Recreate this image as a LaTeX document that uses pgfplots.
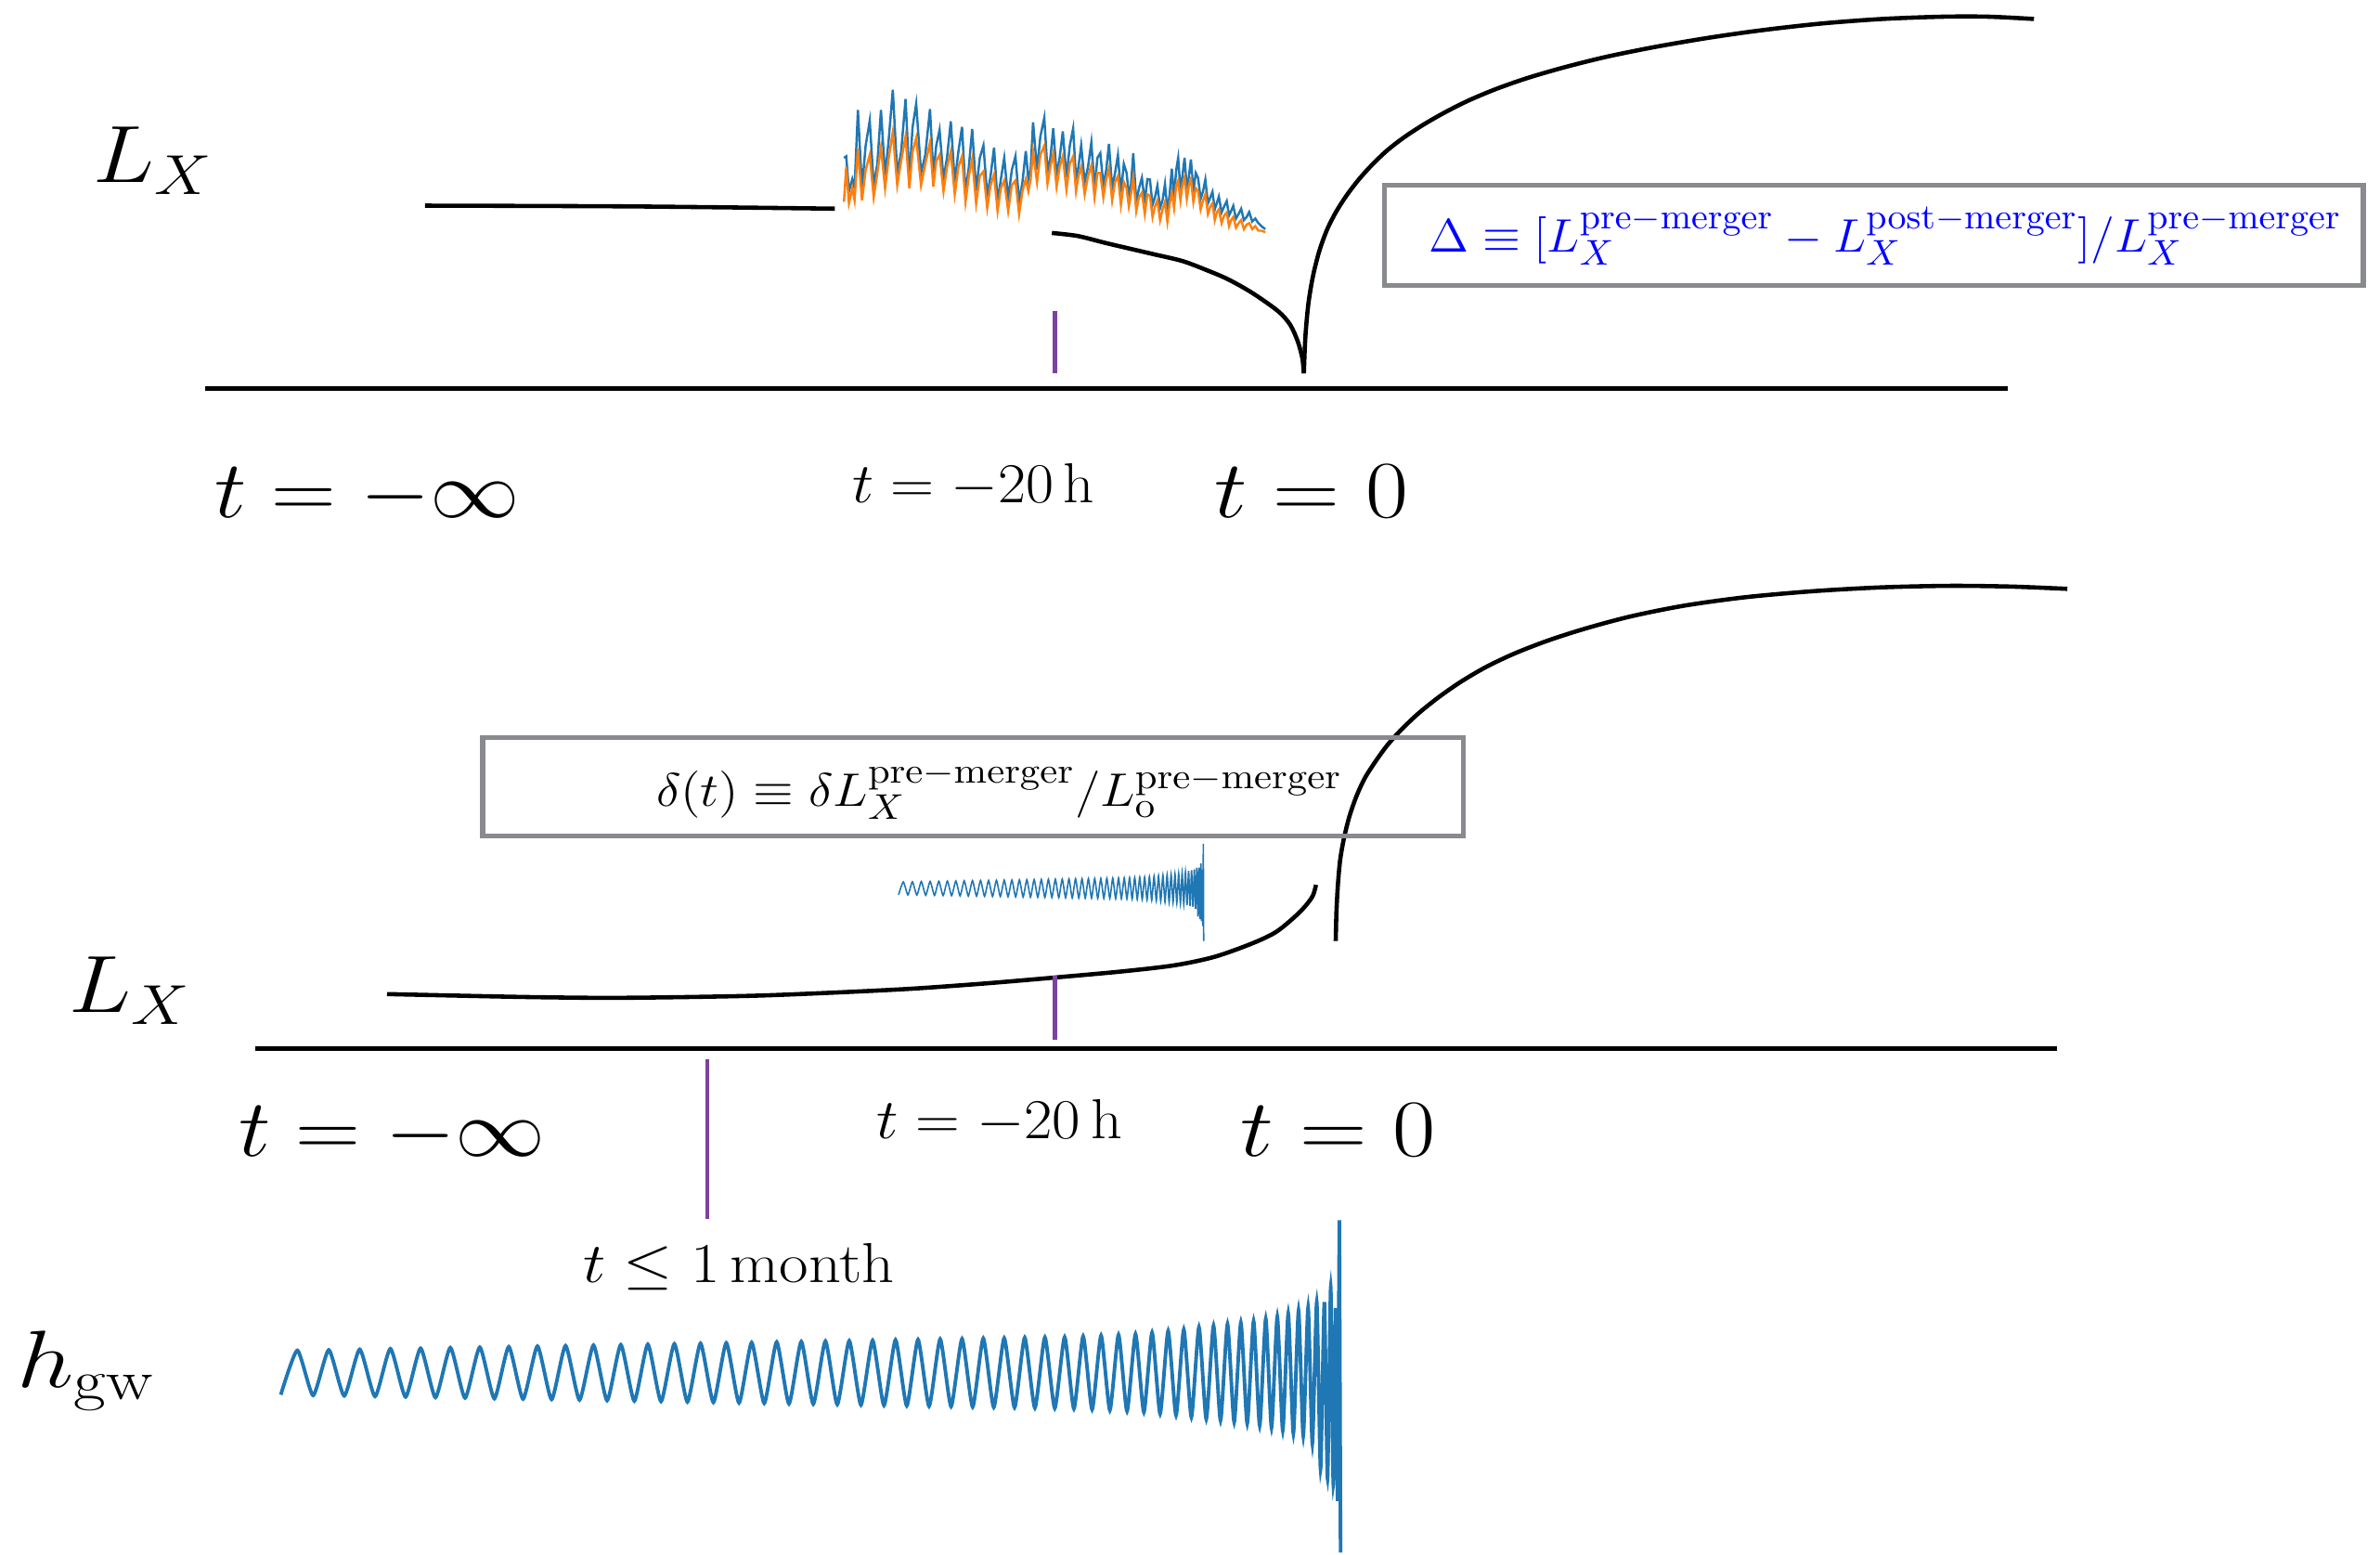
\documentclass[border=0pt]{standalone}
\usepackage{graphicx}
\usepackage{pgfplots}
\pgfplotsset{compat=1.18}
\usepackage{pgfplotstable}
\definecolor{mplblue}{RGB}{31,119,180}
\definecolor{mplorange}{RGB}{255,127,14}
\definecolor{tickpurple}{RGB}{125,65,160}
\definecolor{boxgray}{RGB}{136,138,141}
\newcommand\fbig{\fontsize{27}{32}\selectfont}
\newcommand\fmid{\fontsize{18}{22}\selectfont}
\newcommand\fsm{\fontsize{15.5}{19}\selectfont}

\pgfplotstableread{
x b o
556.0 104 133
557.5 103 110
559.3 126 134
561.5 118 124
563.0 124 132
565.2 72.4 98
567.9 124 132
570.3 96 112
573.0 79.5 102
575.6 122 130
578.0 108 114
580.4 72.4 97
583.1 116 124
585.5 92 104
588.2 59.1 87
591.1 114 122
593.7 100 106
596.6 65.2 90
599.1 118 124
601.2 84 100
603.6 68.3 91
606.8 114 122
609.6 102 108
612.7 71.8 94
614.9 115 123
616.8 96 106
619.0 85.6 102
621.6 118 126
623.9 104 110
626.4 79.9 100
629.0 120 128
631.4 100 110
633.8 83.6 103
636.1 127 133
638.3 110 116
640.5 85.0 105
643.1 126 134
645.5 104 116
647.9 95.8 113
650.4 129 137
652.6 116 122
654.9 97.2 115
657.2 133 139
659.4 118 124
661.6 104 119
664.2 131 139
666.6 112 122
669.0 103 119
671.4 133 141
673.6 120 126
675.8 99.5 118
677.5 118 126
679.0 112 118
680.6 80.5 100
683.2 112 120
685.4 90 102
688.0 77.5 96
690.1 113 121
692.0 104 110
693.9 84.6 101
696.1 115 123
698.1 104 110
700.2 86.6 103
702.6 117 125
704.8 96 108
707.0 84.6 103
708.9 118 126
710.5 110 116
712.3 95.8 110
714.6 120 128
716.8 110 116
719.0 93.8 109
721.1 124 130
723.0 104 114
724.9 100.9 114
726.9 122 130
728.8 112 118
730.6 94.8 111
732.7 124 132
734.6 114 120
736.5 102.3 116
738.5 127 135
740.4 108 120
742.2 113.8 124
743.7 128 136
745.1 122 128
746.6 100.9 117
748.6 133 139
750.4 124 130
752.3 117.2 127
754.2 133 141
755.9 118 128
757.6 118.3 129
759.3 135 143
760.9 130 136
762.5 122.3 132
764.3 137 145
765.9 132 138
767.5 121.3 133
769.1 139 146
770.6 128 134
772.0 111.1 127
773.5 130 137
774.9 112 122
776.2 104 119
777.7 125 132
779.0 116 122
780.4 104 117
781.9 124 131
783.3 116 122
784.6 105 118
786.2 126 133
787.8 114 124
789.3 117.2 126
791.0 131 138
792.6 126 132
794.1 118.3 128
795.8 134 141
797.4 130 136
798.8 126.4 134
800.3 138 145
801.6 134 140
803.0 129.5 138
804.8 140 147
806.5 136 142
808.2 132.5 140
809.7 142 149
811.1 139 145
812.5 135.6 143
814.3 144 150
816.0 141 147
817.7 137.6 145
819.5 145 151
821.3 143 148
823.0 139.7 147
825.0 146 151
827.0 144 149
829.0 147 152
831.0 149 152
833.6 151 153
}\noise

\pgfplotstableread{
x y
185.0 919.0
195.9 889.8
206.3 919.4
216.6 889.5
226.8 919.7
237.0 889.1
247.1 920.1
257.2 888.7
267.2 920.4
277.1 888.4
286.9 920.8
296.7 888.0
306.4 921.1
316.1 887.7
325.7 921.5
335.2 887.4
344.6 921.8
354.1 887.0
363.4 922.1
372.6 886.7
381.8 922.4
391.0 886.4
400.0 922.8
409.0 886.1
417.9 923.1
426.8 885.8
435.5 923.4
444.3 885.5
452.9 923.7
461.5 885.2
470.0 924.0
478.5 884.9
486.9 924.3
495.2 884.6
503.5 924.6
511.7 884.3
519.8 924.9
527.9 884.0
535.8 925.1
543.8 883.7
551.6 925.4
559.5 883.5
567.2 925.7
574.9 883.2
582.4 926.0
590.0 882.9
597.4 926.2
604.8 882.7
612.1 926.5
619.4 882.4
626.6 926.7
633.8 882.2
640.8 927.0
647.8 881.9
654.7 927.2
661.6 881.7
668.4 927.4
675.1 881.4
681.8 927.7
688.4 881.2
694.9 927.9
701.4 881.0
707.5 928.2
713.6 880.5
719.5 928.7
725.4 880.0
731.2 929.2
736.9 879.5
742.5 929.8
748.1 879.0
753.6 930.5
759.0 878.0
764.3 931.5
769.6 877.0
774.8 932.5
779.9 876.0
784.9 933.7
789.9 874.5
794.7 935.0
799.5 873.5
804.1 936.0
808.7 872.5
813.1 937.0
817.5 871.5
821.7 938.0
825.9 870.5
829.9 939.3
833.9 869.0
837.7 940.7
841.5 867.5
845.1 942.5
848.7 865.5
852.1 944.5
855.5 863.5
858.6 946.0
861.8 861.5
864.6 951.0
867.5 858.0
870.0 968.0
872.5 858.0
874.6 974.0
876.7 848.0
878.4 978.0
880.0 862.0
881.2 989.0
}\chirp

\pgfplotstableread{
x y
881.2 989
882.4 804
883.2 1023
}\spike

\begin{document}
\begin{tikzpicture}
\begin{axis}[name=main, width=25.64cm, height=16.74cm, scale only axis,
  xmin=0, xmax=1568, ymin=0, ymax=1024, y dir=reverse, hide axis, clip=false]

% ---------- top panel ----------
\addplot[black, line width=1.4pt] coordinates {(135,256) (1323,256)};
\addplot[black, line width=1.3pt, smooth] coordinates {(280,135.5) (415,136) (550,137.5)};
\addplot[mplblue, line width=0.7pt] table[x=x, y=b] {\noise};
\addplot[mplorange, line width=0.7pt] table[x=x, y=o] {\noise};
\addplot[black, line width=1.3pt, smooth] coordinates {(693,153.5) (710,155.5) (728,160) (745,164) (760,167.5) (779,172) (795,178) (809,184) (825,193) (842,205) (850,214) (855,225) (858,236) (859,246)};
\addplot[black, line width=1.3pt, smooth] coordinates {(859,246) (860,222) (862,200) (865,182) (869,166) (874,152) (880,140) (887,129) (895,118.5) (904,108.5) (914,99) (925,90.5) (938,82) (952,74) (968,66) (986,58.5) (1006,51.5) (1030,44.5) (1058,37.5) (1090,31) (1125,25) (1160,20) (1200,15.5) (1240,12.5) (1280,11) (1310,11) (1340,12.5)};
\addplot[tickpurple, line width=1.4pt] coordinates {(695,205) (695,246)};

\draw[boxgray, line width=1.5pt] (axis cs:912,122) rectangle (axis cs:1557,188);
\node[anchor=base west, inner sep=0, font=\fsm, text=blue] at (axis cs:941,166)
  {\scalebox{1.04}[1]{$\Delta \equiv [L_X^{\mathrm{pre-merger}} - L_X^{\mathrm{post-merger}}]/L_X^{\mathrm{pre-merger}}$}};

\node[anchor=base west, inner sep=0, font=\fbig] at (axis cs:61,120) {\scalebox{1.13}[1]{$L_X$}};
\node[anchor=base west, inner sep=0, font=\fbig] at (axis cs:141,341) {\scalebox{1.105}[1]{$t=-\infty$}};
\node[anchor=base west, inner sep=0, font=\fmid] at (axis cs:561,331) {\scalebox{1.075}[1]{$t=-20\,\mathrm{h}$}};
\node[anchor=base west, inner sep=0, font=\fbig] at (axis cs:800,341) {\scalebox{1.14}[1]{$t=0$}};

% ---------- bottom panel ----------
\addplot[black, line width=1.4pt] coordinates {(168,691) (1355,691)};
\addplot[black, line width=1.3pt, smooth] coordinates {(255,655) (300,656) (350,657) (400,657.5) (450,657) (500,656) (550,654) (600,651.5) (649,648) (696,644) (740,640) (774,636) (800,630.5) (824,622) (840,614.5) (852,605) (860,597) (865,590) (867,583)};
\addplot[black, line width=1.3pt, smooth] coordinates {(880,620) (880.5,600) (881.5,582) (883,566) (885.5,552) (889,538) (893.5,525) (899,513) (906,502) (914,491) (923,481) (934,470.5) (947,460) (962,449.5) (979,439.5) (998,430.5) (1020,422) (1045,414) (1075,406) (1110,399) (1150,393.5) (1195,389.5) (1240,387) (1285,386) (1325,386.5) (1362,388)};
\addplot[tickpurple, line width=1.4pt] coordinates {(695,643) (695,685)};
\addplot[tickpurple, line width=1.4pt] coordinates {(466,698) (466,803)};

\draw[boxgray, line width=1.5pt] (axis cs:318,486) rectangle (axis cs:964,551);
\node[anchor=base west, inner sep=0, font=\fsm] at (axis cs:432,531)
  {\scalebox{1.11}[1]{$\delta(t) \equiv \delta L_X^{\mathrm{pre-merger}}/L_{\mathrm{o}}^{\mathrm{pre-merger}}$}};

\node[anchor=base west, inner sep=0, font=\fbig] at (axis cs:45,667) {\scalebox{1.15}[1]{$L_X$}};
\node[anchor=base west, inner sep=0, font=\fbig] at (axis cs:157,762) {\scalebox{1.11}[1]{$t=-\infty$}};
\node[anchor=base west, inner sep=0, font=\fmid] at (axis cs:577,750) {\scalebox{1.09}[1]{$t=-20\,\mathrm{h}$}};
\node[anchor=base west, inner sep=0, font=\fbig] at (axis cs:817,762) {\scalebox{1.15}[1]{$t=0$}};
\node[anchor=base west, inner sep=0, font=\fmid] at (axis cs:384,845) {\scalebox{1.128}[1]{$t\leq 1\,\mathrm{month}$}};
\node[anchor=base west, inner sep=0, font=\fbig] at (axis cs:11,914) {\scalebox{1.24}[1]{$h_{\mathrm{gw}}$}};

% gravitational-wave chirp
\addplot[mplblue, line width=1.1pt, smooth, tension=0.35] table[x=x, y=y] {\chirp};
\addplot[mplblue, line width=1.1pt] table[x=x, y=y] {\spike};

\coordinate (sc) at (axis cs:592,620);
\end{axis}

% small copy of the chirp inside the lower panel
\begin{axis}[at={(sc)}, anchor=south west, width=3.2868cm, height=1.0463cm, scale only axis,
  xmin=185, xmax=883.2, ymin=804, ymax=1023, y dir=reverse, hide axis, clip=false]
\addplot[mplblue, line width=0.45pt, smooth, tension=0.35] table[x=x, y=y] {\chirp};
\addplot[mplblue, line width=0.45pt] table[x=x, y=y] {\spike};
\end{axis}

\pgfresetboundingbox
\path[use as bounding box] (main.south west) rectangle (main.north east);
\end{tikzpicture}
\end{document}
